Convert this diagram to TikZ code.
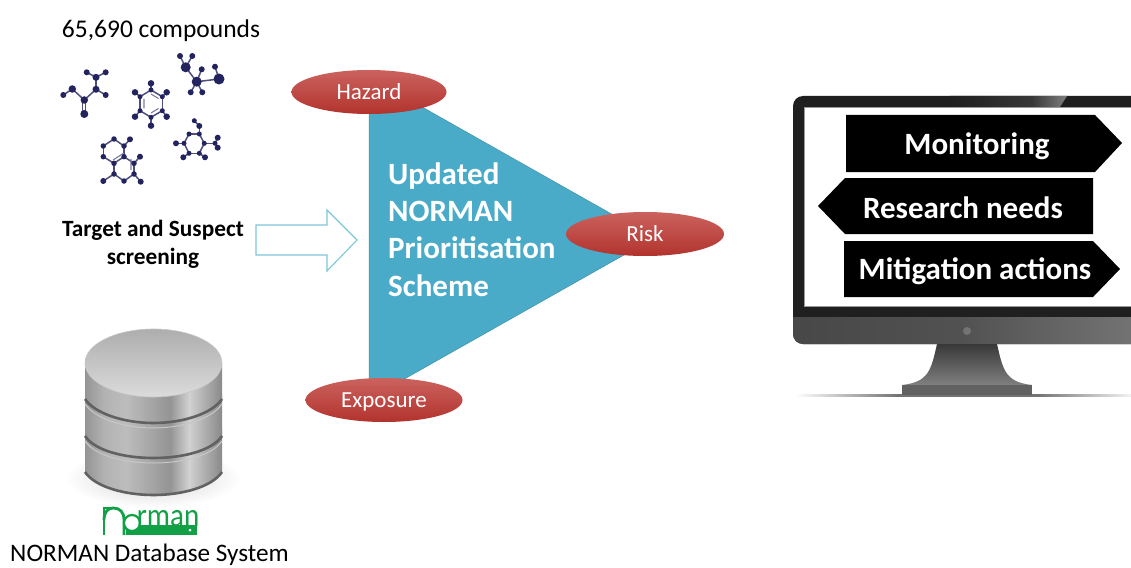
\documentclass[tikz,border=0pt]{standalone}
\usepackage{fontspec}
\setmainfont{Carlito}
\usetikzlibrary{shapes.geometric}
\definecolor{mol}{HTML}{23235F}
\definecolor{teal1}{HTML}{4AABC8}
\definecolor{arrowc}{HTML}{7CC7DC}
\definecolor{green1}{HTML}{12A047}
\definecolor{redtop}{HTML}{CB625E}
\definecolor{redbot}{HTML}{B2332E}
\pgfdeclarehorizontalshading{dbmetal}{100bp}{color(0bp)=(black!42);color(25bp)=(black!42);color(32bp)=(black!30);color(40bp)=(black!26);color(50bp)=(black!36);color(56bp)=(black!42);color(63bp)=(black!18);color(68bp)=(black!30);color(75bp)=(black!46);color(100bp)=(black!46)}
\pgfdeclarehorizontalshading{chin}{100bp}{color(0bp)=(black!72);color(25bp)=(black!72);color(50bp)=(black!68);color(75bp)=(black!55);color(100bp)=(black!55)}
\pgfdeclarehorizontalshading{glare}{100bp}{color(0bp)=(black!88);color(25bp)=(black!88);color(60bp)=(black!78);color(75bp)=(black!50);color(100bp)=(black!50)}
\pgfdeclarehorizontalshading{floorsh}{100bp}{color(0bp)=(white);color(25bp)=(white);color(40bp)=(black!55);color(60bp)=(black!55);color(75bp)=(white);color(100bp)=(white)}
\tikzset{
  x=1pt,y=-1pt,
  atom/.style={circle,fill=mol,inner sep=0pt,minimum size=#1},
  bond/.style={draw=mol!80,line width=1.5pt},
  redell/.style={ellipse,top color=redtop,bottom color=redbot,inner sep=0pt,text=white,font=\fontsize{23}{23}\selectfont},
  blacksign/.style={fill=black,draw=none},
  signtext/.style={text=white,font=\fontsize{31}{31}\selectfont\bfseries,inner sep=0pt},
  caption/.style={text=black,inner sep=0pt,align=center},
  tier/.style={shading=dbmetal},
  tierline/.style={draw=black!62,line width=2.6pt},
  tierglow/.style={draw=black!22,line width=1pt}
}
\newcommand{\mybonds}[1]{\foreach \a/\b in {#1}{\draw[bond] (\a) -- (\b);}}
\begin{document}
\begin{tikzpicture}
\useasboundingbox (0,0) rectangle (1131,567);
\fill[white] (0,0) rectangle (1131,567);

\node[caption,font=\fontsize{25.5}{25.5}\selectfont] (count) at (161,31) {65,690 compounds};

\foreach \n/\p in {
 a1/{63.3,95}, a2/{72.3,89}, a3/{84.3,100}, a4/{96,89.3}, a5/{105.7,95}, a6/{96,77.3}, a7/{86.7,72.3}, a8/{105.7,72.3}, a9/{84.3,114},
 b1/{151,90}, b2/{162.3,96.7}, b3/{162.3,110.7}, b4/{151,117.3}, b5/{140,110.7}, b6/{140,96.7}, b7/{151,83.3}, b8/{166.7,92.3}, b9/{166.7,116.7}, b10/{151,125.7}, b11/{135,116.7}, b12/{135,92.3},
 c1/{185.7,67.3}, c2/{180,56}, c3/{192.3,56}, c4/{196.7,81.7}, c5/{201.7,69.3}, c6/{190.7,92.3}, c7/{202.3,92.3}, c8/{219,79}, c9/{215,66.7},
 d1/{189,134}, d2/{199.3,134}, d3/{204.3,143.3}, d4/{199.3,153.3}, d5/{189,153.3}, d6/{184,143.3}, d7/{176,143.3}, d8/{183.3,157.3}, d9/{205,157.3}, d10/{215,143.3}, d11/{217.7,137.7}, d12/{217.7,147.7}, d13/{199.3,126}, d14/{194.3,120.7},
 e1/{103.3,146}, e2/{114,139}, e3/{124,146}, e4/{124,156.7}, e5/{114,163.3}, e6/{103.3,156.7}, e7/{130,139.3}, e8/{134,163.3}, e9/{134,174}, e10/{124,181}, e11/{114,174}, e12/{140,156.7}, e13/{140.7,181.7}, e14/{103.3,181}}
 {\coordinate (\n) at (\p);}
\mybonds{a1/a2,a2/a3,a3/a4,a4/a5,a4/a6,a6/a7,a6/a8,
 b1/b2,b2/b3,b3/b4,b4/b5,b5/b6,b6/b1,b1/b7,b2/b8,b3/b9,b4/b10,b5/b11,b6/b12,
 c1/c2,c1/c3,c1/c4,c4/c5,c4/c6,c4/c7,c4/c8,c8/c9,
 d1/d2,d2/d3,d3/d4,d4/d5,d5/d6,d6/d1,d6/d7,d5/d8,d4/d9,d3/d10,d10/d11,d10/d12,d2/d13,d13/d14,
 e1/e2,e2/e3,e3/e4,e4/e5,e5/e6,e6/e1,e3/e7,e4/e8,e8/e9,e9/e10,e10/e11,e11/e5,e8/e12,e9/e13,e11/e14}
\draw[bond,line width=1.1pt] ([xshift=-1.6pt]a3) -- ([xshift=-1.6pt]a9);
\draw[bond,line width=1.1pt] ([xshift=1.6pt]a3) -- ([xshift=1.6pt]a9);
\draw[bond,draw=mol!60,line width=1.1pt] (144,99) -- (144,108.5) (151,94) -- (158.5,98.5) (158.5,108.5) -- (151,113);
\draw[bond,draw=mol!60,line width=1.1pt] (113,160) -- (124,153) (131,159) -- (131,170);
\foreach \n/\s in {a1/6,a2/7.5,a3/7.5,a4/7,a5/6,a6/7,a7/6,a8/6,a9/8,
 b1/5,b2/5,b3/5,b4/5,b5/5,b6/5,b7/6.5,b8/6.5,b9/6.5,b10/6.5,b11/6.5,b12/6.5,
 c1/10,c2/6,c3/6,c4/10,c5/6,c6/6,c7/6,c8/11,c9/6,
 d1/5,d2/5,d3/5,d4/5,d5/5,d6/5,d7/6,d8/6,d9/6,d10/5,d11/6,d12/6,d13/6,d14/5,
 e1/5.5,e2/5.5,e3/5.5,e4/5.5,e5/5.5,e6/5.5,e7/6,e8/5.5,e9/5.5,e10/5.5,e11/5.5,e12/6,e13/6,e14/6}
 {\node[atom=\s pt] at (\n) {};}

\node[caption,font=\fontsize{23.3}{28}\selectfont\bfseries] (target) at (153,244) {Target and Suspect\\screening};
\draw[draw=arrowc,line width=1.1pt,fill=white] (256,225) -- (327,225) -- (327,210) -- (357,240) -- (327,271) -- (327,255) -- (256,255) -- cycle;

\fill[teal1,draw=teal1!85!black,line width=.5pt] (369,77) -- (654,238) -- (369,399) -- cycle;
\node[text=white,inner sep=0pt,anchor=north west,align=left,font=\fontsize{31}{37.2}\selectfont\bfseries] (scheme) at (388,162.5) {Updated\\NORMAN\\Prioritisation\\Scheme};
\node[redell,minimum width=155pt,minimum height=44pt] (hazard) at (369,92) {Hazard};
\node[redell,minimum width=158pt,minimum height=44pt] (risk) at (645,234) {Risk};
\node[redell,minimum width=157pt,minimum height=44pt,text depth=0pt] (exposure) at (384,400) {Exposure};

\shade[inner color=black!18,outer color=white] (153,478) ellipse [x radius=88,y radius=30];
\foreach \top/\bot/\cen in {428/472/495,394/436/458}{
  \path[tier] (85,\top) -- (85,\bot) .. controls (95,{\bot+15}) and (125,\cen) .. (153.5,\cen) .. controls (182,\cen) and (212,{\bot+15}) .. (222,\bot) -- (222,\top) -- cycle;
  \draw[tierline] (85,\bot) .. controls (95,{\bot+15}) and (125,\cen) .. (153.5,\cen) .. controls (182,\cen) and (212,{\bot+15}) .. (222,\bot);
}
\draw[tierglow] (85,441) .. controls (95,456) and (125,463) .. (153.5,463) .. controls (182,463) and (212,456) .. (222,441);
\draw[tierglow] (85,404) .. controls (95,419) and (125,428) .. (153.5,428) .. controls (182,428) and (212,419) .. (222,404);
\path[tier] (85,363) -- (85,399) .. controls (95,414) and (125,423) .. (153.5,423) .. controls (182,423) and (212,414) .. (222,399) -- (222,363) -- cycle;
\draw[tierline] (85,399) .. controls (95,414) and (125,423) .. (153.5,423) .. controls (182,423) and (212,414) .. (222,399);
\shade[top color=black!32,bottom color=black!14,draw=black!22,line width=.6pt] (153.5,363) ellipse [x radius=68.5,y radius=34];

% NORMAN logo
\fill[green1] (126,525) rectangle (197,535);
\fill[white] (190,530) circle (1.5);
\draw[green1,line width=2.8pt] (104,535) -- (104,508) -- (112,508);
\draw[green1,line width=2.8pt] (104,520) .. controls (104,512) and (108,508) .. (113,508) .. controls (120,508) and (124,512) .. (124,520) -- (124,535);
\draw[green1,line width=2.2pt,fill=white] (132,523) circle (8);
\node[text=green1,inner sep=0pt,anchor=base,xscale=.88,font=\fontsize{33}{33}\selectfont] (rman) at (168,526) {rman};
\node[caption,font=\fontsize{25.2}{25.2}\selectfont] (dbsys) at (149.5,555) {NORMAN Database System};

\path[shading=floorsh] (795,394.5) rectangle (1140,396.5);
\fill[black!88] (1131,96) -- (803,96) arc[start angle=-90,end angle=-180,radius=10] -- (793,334) arc[start angle=180,end angle=90,radius=10] -- (1131,344) -- cycle;
\path[shading=glare] (950,96) -- (1067,96) -- (1060,107) -- (950,107) -- cycle;
\fill[white,draw=black!40,line width=.4pt] (804,107) rectangle (1131,306);
\path[shading=chin] (793,317) -- (1131,317) -- (1131,344) -- (803,344) arc[start angle=90,end angle=180,radius=10] -- cycle;
\fill[black!55] (967,331) circle (4);
\shade[top color=black!78,bottom color=black!50] (937,344) -- (997,344) .. controls (1003,370) and (1005,382) .. (1032,385) -- (902,385) .. controls (929,382) and (931,370) .. (937,344) -- cycle;
\fill[black!62] (902,385) rectangle (1032,395);

\fill[blacksign] (846,115) -- (1095,115) -- (1122,143) -- (1095,172) -- (846,172) -- cycle;
\fill[blacksign] (1093,178) -- (845,178) -- (818,206) -- (845,234) -- (1093,234) -- cycle;
\fill[blacksign] (844,241) -- (1093,241) -- (1120,269) -- (1093,297) -- (844,297) -- cycle;
\node[signtext] (monitoring) at (977,146) {Monitoring};
\node[signtext] (research) at (963,208) {Research needs};
\node[signtext] (mitigation) at (975,271) {Mitigation actions};
\end{tikzpicture}
\end{document}
